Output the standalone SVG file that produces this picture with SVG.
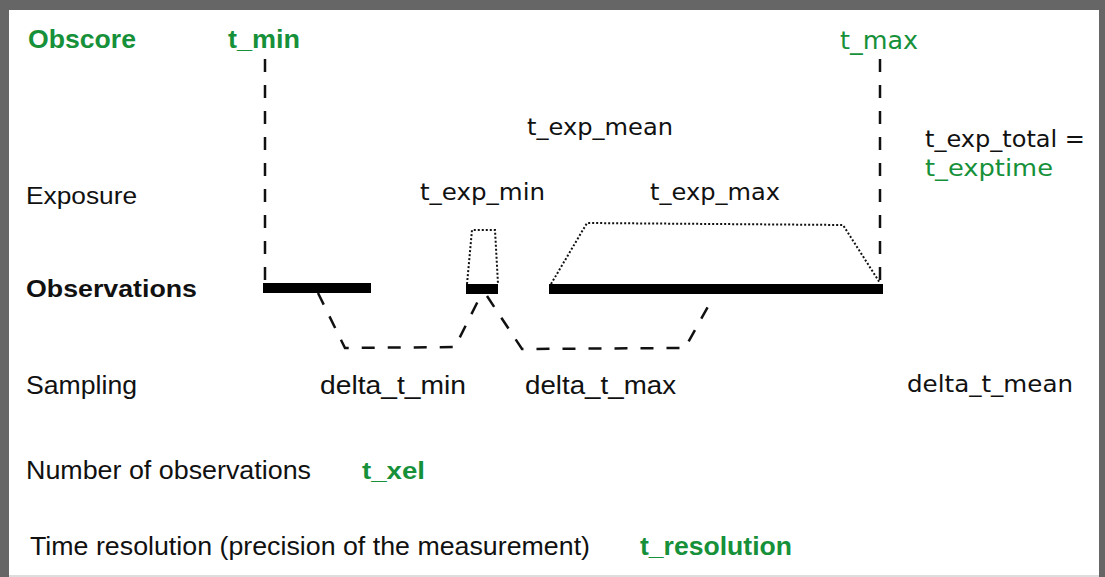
<svg xmlns="http://www.w3.org/2000/svg" width="1105" height="577" viewBox="0 0 1105 577">
<style>
.h{font-family:"Liberation Sans",Arial,sans-serif;fill:#111}
.hb{font-family:"Liberation Sans",Arial,sans-serif;font-weight:bold;fill:#111}
.v{font-family:"DejaVu Sans",Verdana,sans-serif;fill:#111}
.bar{fill:#000}
.dash{fill:none;stroke:#111;stroke-width:2.5;stroke-dasharray:13 13}
.vdash{fill:none;stroke:#111;stroke-width:2.5;stroke-dasharray:13 13}
.dot{fill:none;stroke:#111;stroke-width:2;stroke-dasharray:2 2}
text.g{fill:#16913a}
</style>
<rect x="0" y="0" width="1105" height="577" fill="#ffffff"/>
<rect x="0" y="0" width="1105" height="10" fill="#666666"/>
<rect x="0" y="0" width="9" height="577" fill="#666666"/>
<rect x="1099" y="0" width="6" height="577" fill="#666666"/>
<rect x="9" y="575" width="1090" height="2" fill="#dddddd"/>

<g id="labels">
<text class="hb g" x="28" y="48" font-size="25" textLength="108" lengthAdjust="spacingAndGlyphs">Obscore</text>
<text class="h" x="26" y="204" font-size="24" textLength="111" lengthAdjust="spacingAndGlyphs">Exposure</text>
<text class="hb" x="26" y="297" font-size="24" textLength="171" lengthAdjust="spacingAndGlyphs">Observations</text>
<text class="h" x="26" y="394" font-size="25" textLength="111" lengthAdjust="spacingAndGlyphs">Sampling</text>
<text class="h" x="26" y="479" font-size="25" textLength="285" lengthAdjust="spacingAndGlyphs">Number of observations</text>
<text class="h" x="30" y="555" font-size="26" textLength="560" lengthAdjust="spacingAndGlyphs">Time resolution (precision of the measurement)</text>
</g>

<g id="t_min"><text class="hb g" x="228" y="48" font-size="25" textLength="72" lengthAdjust="spacingAndGlyphs">t_min</text></g>
<g id="t_max"><text class="v g" x="840" y="49" font-size="24" textLength="78" lengthAdjust="spacingAndGlyphs">t_max</text></g>
<g id="t_exp_mean"><text class="v" x="527" y="135" font-size="23" textLength="146" lengthAdjust="spacingAndGlyphs">t_exp_mean</text></g>
<g id="t_exp_min"><text class="v" x="420" y="200" font-size="23" textLength="125" lengthAdjust="spacingAndGlyphs">t_exp_min</text></g>
<g id="t_exp_max"><text class="v" x="650" y="200" font-size="23" textLength="130" lengthAdjust="spacingAndGlyphs">t_exp_max</text></g>
<g id="t_exp_total">
<text class="v" x="925" y="147" font-size="23" textLength="160" lengthAdjust="spacingAndGlyphs">t_exp_total =</text>
<text class="v g" x="925" y="176" font-size="23" textLength="128" lengthAdjust="spacingAndGlyphs">t_exptime</text>
</g>
<g id="delta_t_min"><text class="h" x="320" y="394" font-size="25" textLength="146" lengthAdjust="spacingAndGlyphs">delta_t_min</text></g>
<g id="delta_t_max"><text class="h" x="525" y="394" font-size="25" textLength="151" lengthAdjust="spacingAndGlyphs">delta_t_max</text></g>
<g id="delta_t_mean"><text class="v" x="907" y="392" font-size="23" textLength="166" lengthAdjust="spacingAndGlyphs">delta_t_mean</text></g>
<g id="t_xel"><text class="hb g" x="362" y="479" font-size="24" textLength="63" lengthAdjust="spacingAndGlyphs">t_xel</text></g>
<g id="t_resolution"><text class="hb g" x="640" y="555" font-size="26" textLength="152" lengthAdjust="spacingAndGlyphs">t_resolution</text></g>

<g id="observations">
<rect class="bar" x="263" y="283" width="108" height="10"/>
<rect class="bar" x="466" y="284" width="32" height="10"/>
<rect class="bar" x="549" y="284" width="334" height="10"/>
</g>

<g id="connectors">
<line class="vdash" x1="265" y1="59" x2="265" y2="283"/>
<line class="vdash" x1="880" y1="59" x2="880" y2="284"/>
<polyline class="dot" points="467,284 472,230 495,230 498,284"/>
<polyline class="dot" points="551,284 587,223 843,225 880,283"/>
<polyline class="dash" points="318,293 345,348 455,347 481,295"/>
<polyline class="dash" points="487,296 522,349 685,348 710,303"/>
</g>
</svg>
